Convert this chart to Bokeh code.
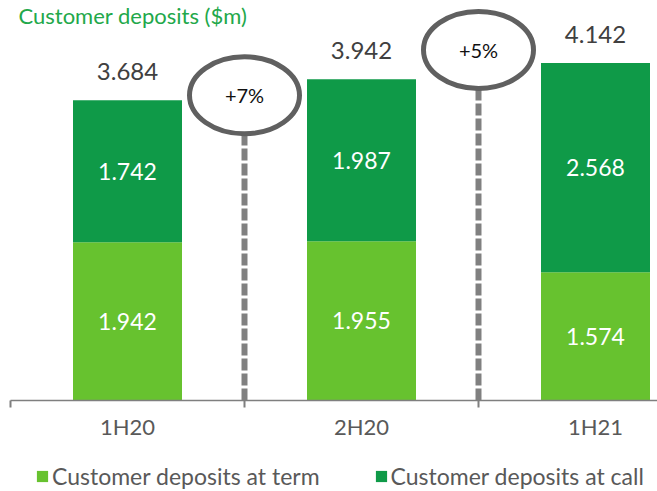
from bokeh.plotting import figure
from bokeh.layouts import column
from bokeh.models import (ColumnDataSource, Range1d, FixedTicker, Legend, LegendItem, Label)
from bokeh.core.properties import value
from bokeh.embed import file_html
from bokeh.resources import INLINE

# ---- data ----
periods = ["1H20", "2H20", "1H21"]
term = [1942, 1955, 1574]
call = [1742, 1987, 2568]
totals = [3684, 3942, 4142]
changes = ["+7%", "+5%"]
series_names = ["Customer deposits at term", "Customer deposits at call"]
title_text = "Customer deposits ($m)"

TERM_C = "#67c22f"
CALL_C = "#0f9a48"
FONT = "Lato"

def fmt(v):
    return f"{v/1000:.3f}"

xs = [i + 0.5 for i in range(len(periods))]
src = ColumnDataSource(dict(
    x=xs, term=term, call=call, total=totals,
    term_mid=[t / 2 for t in term],
    call_mid=[t + c / 2 for t, c in zip(term, call)],
    term_lbl=[fmt(v) for v in term],
    call_lbl=[fmt(v) for v in call],
    total_lbl=[fmt(v) for v in totals],
))

W = 657
LEFT = 10
FH = 405
AXIS_H = 37
LEG_H = 49
cat_px = 234
px_per_unit = 0.0825
ymax = FH / px_per_unit
FW = W - LEFT

p = figure(width=W, height=FH + AXIS_H, output_backend="svg",
           toolbar_location=None,
           x_range=Range1d(0, FW / cat_px), y_range=Range1d(0, ymax),
           min_border_left=LEFT, min_border_right=0, min_border_top=0,
           min_border_bottom=AXIS_H)
p.outline_line_color = None
p.grid.visible = False
p.yaxis.visible = False

rs = p.vbar_stack(["term", "call"], x="x", width=109 / cat_px, source=src,
                  color=[TERM_C, CALL_C], line_color=None)

p.text(x="x", y="term_mid", text="term_lbl", source=src, text_color="white",
       text_font=value(FONT), text_font_size="23px", text_align="center",
       text_baseline="middle")
p.text(x="x", y="call_mid", text="call_lbl", source=src, text_color="white",
       text_font=value(FONT), text_font_size="23px", text_align="center",
       text_baseline="middle")
p.text(x="x", y="total", text="total_lbl", source=src, text_color="#404040",
       text_font=value(FONT), text_font_size="24px", text_align="center",
       text_baseline="middle", y_offset=-29)

# growth markers between bars
bx = [1, 2]
ell_y = [3745, 4303]
line_top = [3248, 3818]
p.segment(x0=bx, y0=[0, 0], x1=bx, y1=line_top, line_color="#808080",
          line_width=6, line_dash="12 3")
p.ellipse(x=bx, y=ell_y, width=110, height=77, width_units="screen",
          height_units="screen", fill_color="white", line_color="#606060",
          line_width=5)
p.text(x=bx, y=ell_y, text=changes, text_color="#111111",
       text_font=value(FONT), text_font_size="20px", text_align="center",
       text_baseline="middle")

# x axis
ax = p.xaxis[0]
ax.ticker = FixedTicker(ticks=xs, minor_ticks=list(range(len(periods) + 1)))
ax.major_label_overrides = {x: lab for x, lab in zip(xs, periods)}
ax.major_tick_out = 0
ax.major_tick_in = 0
ax.minor_tick_out = 7
ax.minor_tick_in = 0
ax.minor_tick_line_color = "#7f7f7f"
ax.minor_tick_line_width = 2
ax.axis_line_color = "#7f7f7f"
ax.axis_line_width = 1.5
ax.major_label_standoff = 5
ax.major_label_text_font = FONT
ax.major_label_text_font_size = "22px"
ax.major_label_text_color = "#595959"

# title
p.add_layout(Label(x=0, y=ymax - 2 / px_per_unit, x_offset=8, text=title_text,
                   text_font=FONT, text_font_size="22px",
                   text_color="#22a84a", text_baseline="top"))

# legend strip below the axis (proxy renderers sit outside the visible range)
p2 = figure(width=W, height=LEG_H, output_backend="svg", toolbar_location=None,
            x_range=Range1d(0, 1), y_range=Range1d(0, 1),
            min_border_left=0, min_border_right=0, min_border_top=0,
            min_border_bottom=0)
p2.outline_line_color = None
p2.grid.visible = False
p2.axis.visible = False
lr = [p2.vbar(x=[-10], top=[-10], bottom=[-11], width=0.1, color=c,
              line_color=None)
      for c in (TERM_C, CALL_C)]

legend = Legend(items=[LegendItem(label=n, renderers=[r])
                       for n, r in zip(series_names, lr)],
                orientation="horizontal", location=(25, 1),
                glyph_width=14, glyph_height=14, label_standoff=3, spacing=54,
                padding=0, margin=0, border_line_color=None,
                background_fill_alpha=0, label_text_font=FONT,
                label_text_font_size="23px", label_text_color="#595959")
p2.add_layout(legend)

layout = column(p, p2, spacing=0)
open("out.html", "w").write(file_html(layout, INLINE))
